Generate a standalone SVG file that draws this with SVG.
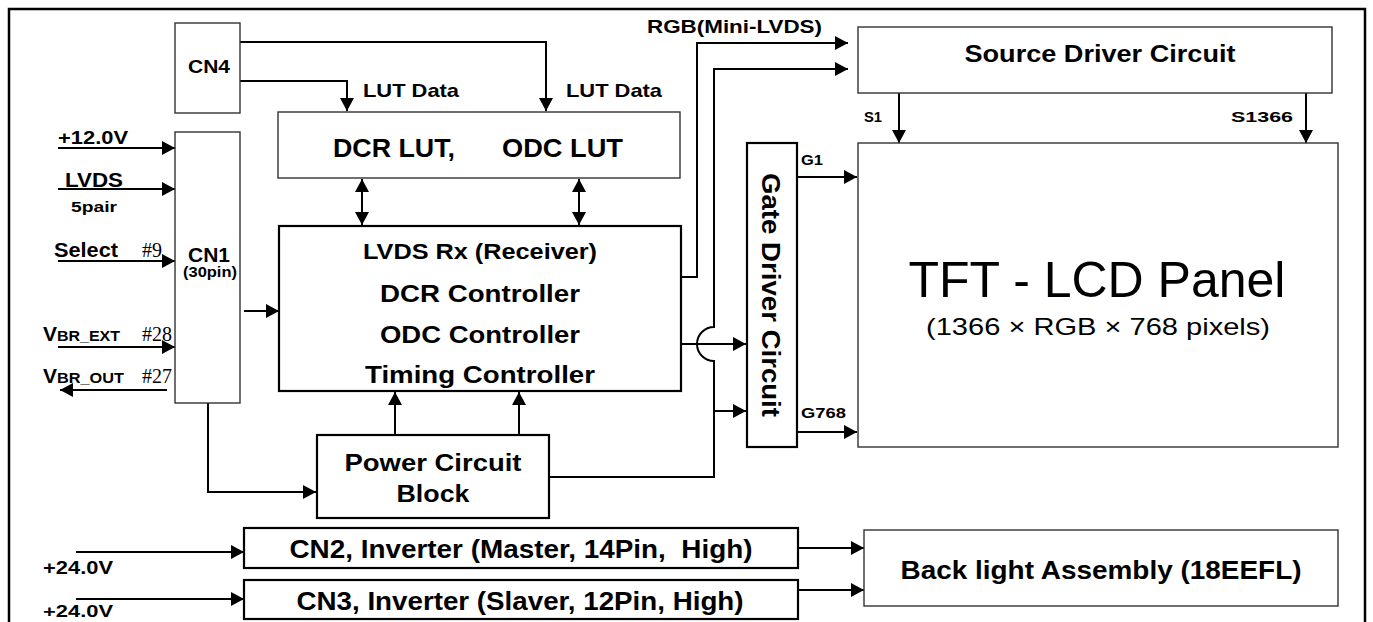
<svg xmlns="http://www.w3.org/2000/svg" width="1373" height="622" viewBox="0 0 1373 622">
<style>
  .thin{fill:#fff;stroke:#333;stroke-width:1.4}
  .thick{fill:#fff;stroke:#000;stroke-width:2.2}
  .wire{fill:none;stroke:#000;stroke-width:2}
  .b{font-family:"Liberation Sans",Arial,sans-serif;font-weight:bold;fill:#000}
  .r{font-family:"Liberation Sans",Arial,sans-serif;fill:#000}
  .s{font-family:"Liberation Serif","Times New Roman",serif;fill:#000}
  .m{text-anchor:middle}
  .pre{white-space:pre}
</style>
<defs>
  <marker id="ah" viewBox="0 0 13 14" markerWidth="13" markerHeight="14" refX="13" refY="7" orient="auto-start-reverse" markerUnits="userSpaceOnUse">
    <path d="M0,0 L13,7 L0,14 z" fill="#000"/>
  </marker>
</defs>
<rect width="1373" height="622" fill="#fff"/>
<path d="M9,622 V9 H1365 V622" fill="none" stroke="#000" stroke-width="2.5"/>

<g id="connectors">
  <path class="wire" d="M58,148 H175" marker-end="url(#ah)"/>
  <path class="wire" d="M58,189 H175" marker-end="url(#ah)"/>
  <path class="wire" d="M58,261 H175" marker-end="url(#ah)"/>
  <path class="wire" d="M58,347 H175" marker-end="url(#ah)"/>
  <path class="wire" d="M167,390 H60" marker-end="url(#ah)"/>
  <path class="wire" d="M244,311 H279" marker-end="url(#ah)"/>
  <path class="wire" d="M240,42 H546 V111" marker-end="url(#ah)"/>
  <path class="wire" d="M240,81 H347 V111" marker-end="url(#ah)"/>
  <path class="wire" d="M362,179 V225" marker-start="url(#ah)" marker-end="url(#ah)"/>
  <path class="wire" d="M579,179 V225" marker-start="url(#ah)" marker-end="url(#ah)"/>
  <path class="wire" d="M395,435 V392" marker-end="url(#ah)"/>
  <path class="wire" d="M519,435 V392" marker-end="url(#ah)"/>
  <path class="wire" d="M208,403 V492 H316" marker-end="url(#ah)"/>
  <path class="wire" d="M681,277 H697 V43 H848" marker-end="url(#ah)"/>
  <path class="wire" d="M549,477 H714 V361 A17,17 0 0 1 714,327 V69 H848" marker-end="url(#ah)"/>
  <path class="wire" d="M681,344 H746" marker-end="url(#ah)"/>
  <path class="wire" d="M714,411 H746" marker-end="url(#ah)"/>
  <path class="wire" d="M797,177 H857" marker-end="url(#ah)"/>
  <path class="wire" d="M797,432 H857" marker-end="url(#ah)"/>
  <path class="wire" d="M899,93 V143" marker-end="url(#ah)"/>
  <path class="wire" d="M1306,93 V143" marker-end="url(#ah)"/>
  <path class="wire" d="M76,552 H244" marker-end="url(#ah)"/>
  <path class="wire" d="M76,599 H244" marker-end="url(#ah)"/>
  <path class="wire" d="M798,548 H864" marker-end="url(#ah)"/>
  <path class="wire" d="M798,590 H864" marker-end="url(#ah)"/>
</g>

<g id="labels">
  <text class="b" x="58" y="144" font-size="18" textLength="70" lengthAdjust="spacingAndGlyphs">+12.0V</text>
  <text class="b" x="65" y="187" font-size="20" textLength="58" lengthAdjust="spacingAndGlyphs">LVDS</text>
  <text class="b" x="71" y="212" font-size="15" textLength="46" lengthAdjust="spacingAndGlyphs">5pair</text>
  <text class="b" x="54" y="257" font-size="20" textLength="64" lengthAdjust="spacingAndGlyphs">Select</text>
  <text class="s" x="142" y="257" font-size="20">#9</text>
  <text class="b" x="43" y="341" font-size="21">V<tspan font-size="15" textLength="63" lengthAdjust="spacingAndGlyphs">BR_EXT</tspan></text>
  <text class="s" x="142" y="341" font-size="20">#28</text>
  <text class="b" x="43" y="383" font-size="21">V<tspan font-size="15" textLength="67" lengthAdjust="spacingAndGlyphs">BR_OUT</tspan></text>
  <text class="s" x="142" y="383" font-size="20">#27</text>
  <text class="b" x="363" y="97" font-size="19" textLength="96" lengthAdjust="spacingAndGlyphs">LUT Data</text>
  <text class="b" x="566" y="97" font-size="19" textLength="96" lengthAdjust="spacingAndGlyphs">LUT Data</text>
  <text class="b" x="647" y="33" font-size="18" textLength="175" lengthAdjust="spacingAndGlyphs">RGB(Mini-LVDS)</text>
  <text class="b" x="864" y="122" font-size="15" textLength="18" lengthAdjust="spacingAndGlyphs">S1</text>
  <text class="b" x="1231" y="122" font-size="15" textLength="62" lengthAdjust="spacingAndGlyphs">S1366</text>
  <text class="b" x="801" y="165" font-size="15" textLength="22" lengthAdjust="spacingAndGlyphs">G1</text>
  <text class="b" x="801" y="418" font-size="15" textLength="45" lengthAdjust="spacingAndGlyphs">G768</text>
  <text class="b" x="43" y="574" font-size="18" textLength="70" lengthAdjust="spacingAndGlyphs">+24.0V</text>
  <text class="b" x="43" y="617" font-size="17" textLength="70" lengthAdjust="spacingAndGlyphs">+24.0V</text>
</g>

<g id="cn4">
  <rect class="thin" x="175" y="23" width="65" height="90"/>
  <text class="b" x="188" y="73" font-size="18" textLength="42" lengthAdjust="spacingAndGlyphs">CN4</text>
</g>
<g id="cn1">
  <rect class="thin" x="175" y="132" width="65" height="271"/>
  <text class="b" x="188" y="262" font-size="20" textLength="42" lengthAdjust="spacingAndGlyphs">CN1</text>
  <text class="b" x="183" y="277" font-size="14" textLength="54" lengthAdjust="spacingAndGlyphs">(30pin)</text>
</g>
<g id="lut">
  <rect class="thin" x="278" y="112" width="402" height="66"/>
  <text class="b" x="333" y="157" font-size="26" textLength="122" lengthAdjust="spacingAndGlyphs">DCR LUT,</text>
  <text class="b" x="502" y="157" font-size="26" textLength="121" lengthAdjust="spacingAndGlyphs">ODC LUT</text>
</g>
<g id="controller">
  <rect class="thick" x="279" y="226" width="402" height="165"/>
  <text class="b m" x="480" y="259" font-size="22" textLength="234" lengthAdjust="spacingAndGlyphs">LVDS Rx (Receiver)</text>
  <text class="b m" x="480" y="302" font-size="24" textLength="200" lengthAdjust="spacingAndGlyphs">DCR Controller</text>
  <text class="b m" x="480" y="343" font-size="24" textLength="200" lengthAdjust="spacingAndGlyphs">ODC Controller</text>
  <text class="b m" x="480" y="383" font-size="24" textLength="230" lengthAdjust="spacingAndGlyphs">Timing Controller</text>
</g>
<g id="power">
  <rect class="thick" x="317" y="435" width="232" height="83"/>
  <text class="b m" x="433" y="471" font-size="23" textLength="177" lengthAdjust="spacingAndGlyphs">Power Circuit</text>
  <text class="b m" x="433" y="502" font-size="23" textLength="73" lengthAdjust="spacingAndGlyphs">Block</text>
</g>
<g id="source">
  <rect class="thin" x="858" y="27" width="474" height="66"/>
  <text class="b m" x="1100" y="62" font-size="23" textLength="271" lengthAdjust="spacingAndGlyphs">Source Driver Circuit</text>
</g>
<g id="gate">
  <rect class="thick" x="747" y="143" width="50" height="304"/>
  <text class="b m" transform="translate(762,295) rotate(90)" font-size="25" textLength="244" lengthAdjust="spacingAndGlyphs">Gate Driver Circuit</text>
</g>
<g id="panel">
  <rect class="thin" x="858" y="143" width="480" height="304"/>
  <text class="r m" x="1097" y="297" font-size="50">TFT - LCD Panel</text>
  <text class="r m" x="1098" y="335" font-size="24" textLength="344" lengthAdjust="spacingAndGlyphs">(1366 × RGB × 768 pixels)</text>
</g>
<g id="cn2">
  <rect class="thick" x="244" y="528" width="554" height="40"/>
  <text class="b m pre" x="521" y="558" font-size="25" textLength="463" lengthAdjust="spacingAndGlyphs">CN2, Inverter (Master, 14Pin,  High)</text>
</g>
<g id="cn3">
  <rect class="thick" x="244" y="580" width="554" height="39"/>
  <text class="b m" x="520" y="610" font-size="25" textLength="447" lengthAdjust="spacingAndGlyphs">CN3, Inverter (Slaver, 12Pin, High)</text>
</g>
<g id="backlight">
  <rect class="thin" x="864" y="530" width="474" height="76"/>
  <text class="b m" x="1101" y="579" font-size="26" textLength="401" lengthAdjust="spacingAndGlyphs">Back light Assembly (18EEFL)</text>
</g>
</svg>
